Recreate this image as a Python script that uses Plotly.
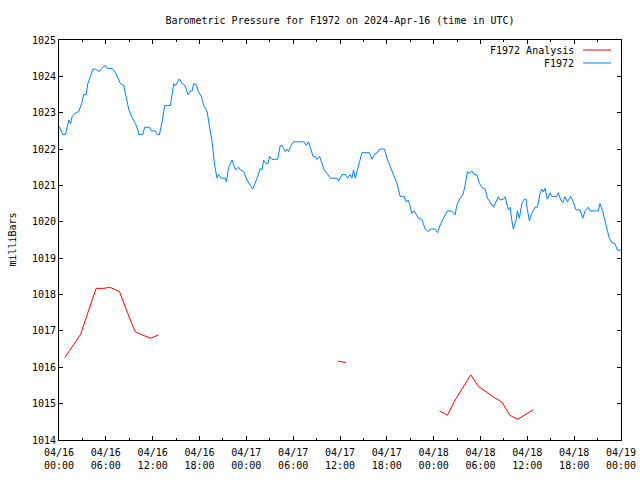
import datetime as dt
import plotly.graph_objects as go

# ---- data (hours after 2024-04-16 00:00 UTC, pressure in mb) ----
blue_hours = [0.0, 0.49, 0.83, 1.25, 1.47, 1.69, 2.11, 2.53, 2.97, 3.17, 3.48, 3.69, 4.03, 4.33, 4.67, 5.18, 5.44, 5.95, 6.17, 6.81,
              7.23, 7.65, 7.87, 8.29, 8.51, 8.93, 9.28, 9.79, 10.14, 10.21, 10.73, 10.98, 11.58, 11.84, 12.35, 12.57, 12.86,
              13.21, 13.54, 14.27, 14.49, 14.69, 14.91, 15.42, 15.77, 16.10, 16.54, 16.83, 17.05, 17.25, 17.56, 17.82, 18.24,
              18.53, 18.97, 19.26, 19.61, 19.94, 20.25, 20.45, 20.76, 21.31, 21.44, 21.73, 22.17, 22.59, 23.01, 23.23, 23.65,
              24.09, 24.81, 25.37, 25.79, 26.01, 26.21, 26.56, 26.78, 26.98, 27.29, 28.01, 28.35, 28.57, 28.99, 29.21, 29.41,
              29.72, 30.05, 31.42, 31.68, 31.97, 32.28, 32.54, 32.83, 33.05, 33.38, 33.56, 33.98, 34.33, 34.75, 35.61, 35.81,
              36.25, 36.67, 36.97, 37.31, 37.53, 37.73, 37.95, 38.17, 38.37, 38.59, 38.81, 39.78, 40.09, 40.51, 40.81, 41.06,
              41.70, 42.01, 42.43, 42.85, 43.29, 43.71, 44.22, 44.48, 44.77, 45.21, 45.50, 46.05, 46.49, 46.91, 47.33, 47.55,
              48.19, 48.49, 48.83, 49.25, 49.77, 50.33, 50.75, 50.97, 51.39, 51.74, 52.03, 52.33, 52.58, 52.89, 53.18, 53.53,
              53.86, 54.30, 54.59, 54.89, 55.23, 55.65, 56.29, 56.51, 56.93, 57.15, 57.57, 57.79, 58.01, 58.21, 58.56, 58.72,
              58.98, 59.29, 59.58, 59.84, 60.01, 60.26, 60.57, 60.99, 61.29, 61.63, 61.85, 62.05, 62.27, 62.57, 62.91, 63.13,
              63.77, 63.97, 64.28, 64.54, 64.83, 65.13, 65.56, 65.89, 66.24, 66.75, 67.10, 67.39, 67.81, 68.03, 69.09, 69.31,
              69.66, 70.08, 70.50, 70.81, 71.23, 71.53, 71.96]
blue_mb = [1022.63, 1022.4, 1022.4, 1022.8, 1022.7, 1022.9, 1023.0, 1023.03, 1023.3, 1023.5, 1023.5, 1023.8, 1024.0, 1024.2, 1024.2,
           1024.13, 1024.22, 1024.3, 1024.22, 1024.22, 1024.1, 1023.9, 1023.8, 1023.76, 1023.5, 1023.1, 1022.9, 1022.7, 1022.5,
           1022.4, 1022.4, 1022.6, 1022.6, 1022.5, 1022.5, 1022.4, 1022.4, 1022.75, 1023.2, 1023.2, 1023.5, 1023.8, 1023.74,
           1023.93, 1023.8, 1023.76, 1023.5, 1023.6, 1023.6, 1023.8, 1023.78, 1023.6, 1023.44, 1023.2, 1023.03, 1022.7, 1022.2,
           1021.56, 1021.2, 1021.3, 1021.2, 1021.2, 1021.1, 1021.5, 1021.7, 1021.43, 1021.5, 1021.43, 1021.38, 1021.15, 1020.9,
           1021.2, 1021.47, 1021.43, 1021.7, 1021.6, 1021.6, 1021.8, 1021.72, 1021.72, 1022.1, 1022.1, 1021.93, 1022.0, 1021.93,
           1022.1, 1022.2, 1022.2, 1022.1, 1022.2, 1022.0, 1021.8, 1021.8, 1021.72, 1021.8, 1021.7, 1021.43, 1021.33, 1021.2,
           1021.2, 1021.12, 1021.3, 1021.3, 1021.2, 1021.3, 1021.2, 1021.43, 1021.2, 1021.38, 1021.6, 1021.8, 1021.9, 1021.9,
           1021.72, 1021.88, 1021.9, 1022.0, 1022.0, 1021.75, 1021.52, 1021.33, 1021.06, 1020.7, 1020.7, 1020.55, 1020.6,
           1020.23, 1020.3, 1020.1, 1020.07, 1019.8, 1019.73, 1019.8, 1019.8, 1019.7, 1019.91, 1020.1, 1020.3, 1020.3, 1020.19,
           1020.46, 1020.65, 1020.74, 1021.0, 1021.38, 1021.33, 1021.4, 1021.3, 1021.29, 1021.06, 1020.92, 1020.9, 1020.65,
           1020.55, 1020.4, 1020.69, 1020.6, 1020.62, 1020.69, 1020.33, 1020.4, 1020.05, 1019.8, 1020.05, 1020.3, 1020.1,
           1020.5, 1020.62, 1020.62, 1020.33, 1020.03, 1020.23, 1020.4, 1020.4, 1020.78, 1020.9, 1020.82, 1020.92, 1020.62,
           1020.8, 1020.7, 1020.7, 1020.8, 1020.6, 1020.53, 1020.69, 1020.55, 1020.7, 1020.55, 1020.33, 1020.33, 1020.1,
           1020.3, 1020.4, 1020.3, 1020.3, 1020.5, 1020.28, 1019.87, 1019.55, 1019.43, 1019.4, 1019.22, 1019.22]

red_hours = [0.75, 2.75, 4.75, 5.75, 6.5, 7.75, 8.75, 9.75, 10.75, 11.75, 12.75, None,
             35.75, 36.25, 36.75, None,
             48.75, 49.75, 50.75, 51.75, 52.75, 53.75, 54.75, 55.75, 56.75, 57.75, 58.75, 59.75, 60.75]
red_mb = [1016.27, 1016.9, 1018.17, 1018.17, 1018.2, 1018.08, 1017.51, 1016.98, 1016.88, 1016.8, 1016.89, None,
          1016.17, 1016.15, 1016.13, None,
          1014.8, 1014.68, 1015.1, 1015.45, 1015.79, 1015.47, 1015.31, 1015.17, 1015.04, 1014.68, 1014.57, 1014.7, 1014.83]

tick_hours = [0, 6, 12, 18, 24, 30, 36, 42, 48, 54, 60, 66, 72]
tick_labels = ["04/16<br>00:00", "04/16<br>06:00", "04/16<br>12:00", "04/16<br>18:00",
               "04/17<br>00:00", "04/17<br>06:00", "04/17<br>12:00", "04/17<br>18:00",
               "04/18<br>00:00", "04/18<br>06:00", "04/18<br>12:00", "04/18<br>18:00",
               "04/19<br>00:00"]
y_ticks = [1014, 1015, 1016, 1017, 1018, 1019, 1020, 1021, 1022, 1023, 1024, 1025]

base = dt.datetime(2024, 4, 16, 0, 0)


def to_time(hs):
    return [None if h is None else base + dt.timedelta(hours=h) for h in hs]


FONT = "DejaVu Sans Mono"
BLUE = "#0080ff"
RED = "#ff0000"

fig = go.Figure()
fig.add_trace(go.Scatter(x=to_time(red_hours), y=red_mb, mode="lines", name="F1972 Analysis",
                         line=dict(color=RED, width=1), connectgaps=False))
fig.add_trace(go.Scatter(x=to_time(blue_hours), y=blue_mb, mode="lines", name="F1972",
                         line=dict(color=BLUE, width=1)))

x0 = base
x1 = base + dt.timedelta(hours=72)

fig.update_layout(
    width=640, height=480,
    margin=dict(l=58.5, r=19, t=40, b=40, pad=0, autoexpand=False),
    paper_bgcolor="white", plot_bgcolor="white",
    showlegend=False,
    font=dict(family=FONT, size=10, color="black"),
    title=dict(text="Barometric Pressure for F1972 on 2024-Apr-16 (time in UTC)",
               x=0.5, xref="paper", xanchor="center",
               y=1 - 20 / 480, yref="container", yanchor="middle",
               font=dict(family=FONT, size=10, color="black")),
)

fig.update_xaxes(
    type="date", range=[x0, x1], automargin=False,
    tickvals=to_time(tick_hours), ticktext=tick_labels,
    ticks="inside", ticklen=4, tickwidth=1, tickcolor="black",
    showline=True, linecolor="black", linewidth=1, mirror="allticks",
    showgrid=False, zeroline=False, ticklabelstandoff=3,
    minor=dict(tickvals=to_time([h + 3 for h in tick_hours[:-1]]), ticks="inside", ticklen=2,
               tickcolor="black", showgrid=False),
    tickfont=dict(family=FONT, size=10, color="black"),
)
fig.update_yaxes(
    range=[1014, 1025], tickvals=y_ticks, ticktext=[str(v) for v in y_ticks], automargin=False,
    ticks="inside", ticklen=4, tickwidth=1, tickcolor="black",
    showline=True, linecolor="black", linewidth=1, mirror="allticks",
    showgrid=False, zeroline=False,
    tickfont=dict(family=FONT, size=10, color="black"),
)

# y-axis label
fig.add_annotation(text="milliBars", xref="paper", yref="paper",
                   x=(11 - 58.5) / 562.5, y=0.5, textangle=-90, showarrow=False,
                   xanchor="center", yanchor="middle",
                   font=dict(family=FONT, size=10, color="black"))

# legend (gnuplot style: text right-aligned, sample line to the right)
legend_items = [("F1972 Analysis", RED, 50), ("F1972", BLUE, 63)]
for label, color, ypx in legend_items:
    yp = (440 - ypx) / 400
    fig.add_annotation(text=label, xref="paper", yref="paper",
                       x=(576 - 58.5) / 562.5, y=yp, xanchor="right", yanchor="middle",
                       showarrow=False, font=dict(family=FONT, size=10, color="black"))
    fig.add_shape(type="line", xref="paper", yref="paper",
                  x0=(583 - 58.5) / 562.5, x1=(611 - 58.5) / 562.5, y0=yp, y1=yp,
                  line=dict(color=color, width=1))

fig.write_html("out.html")
